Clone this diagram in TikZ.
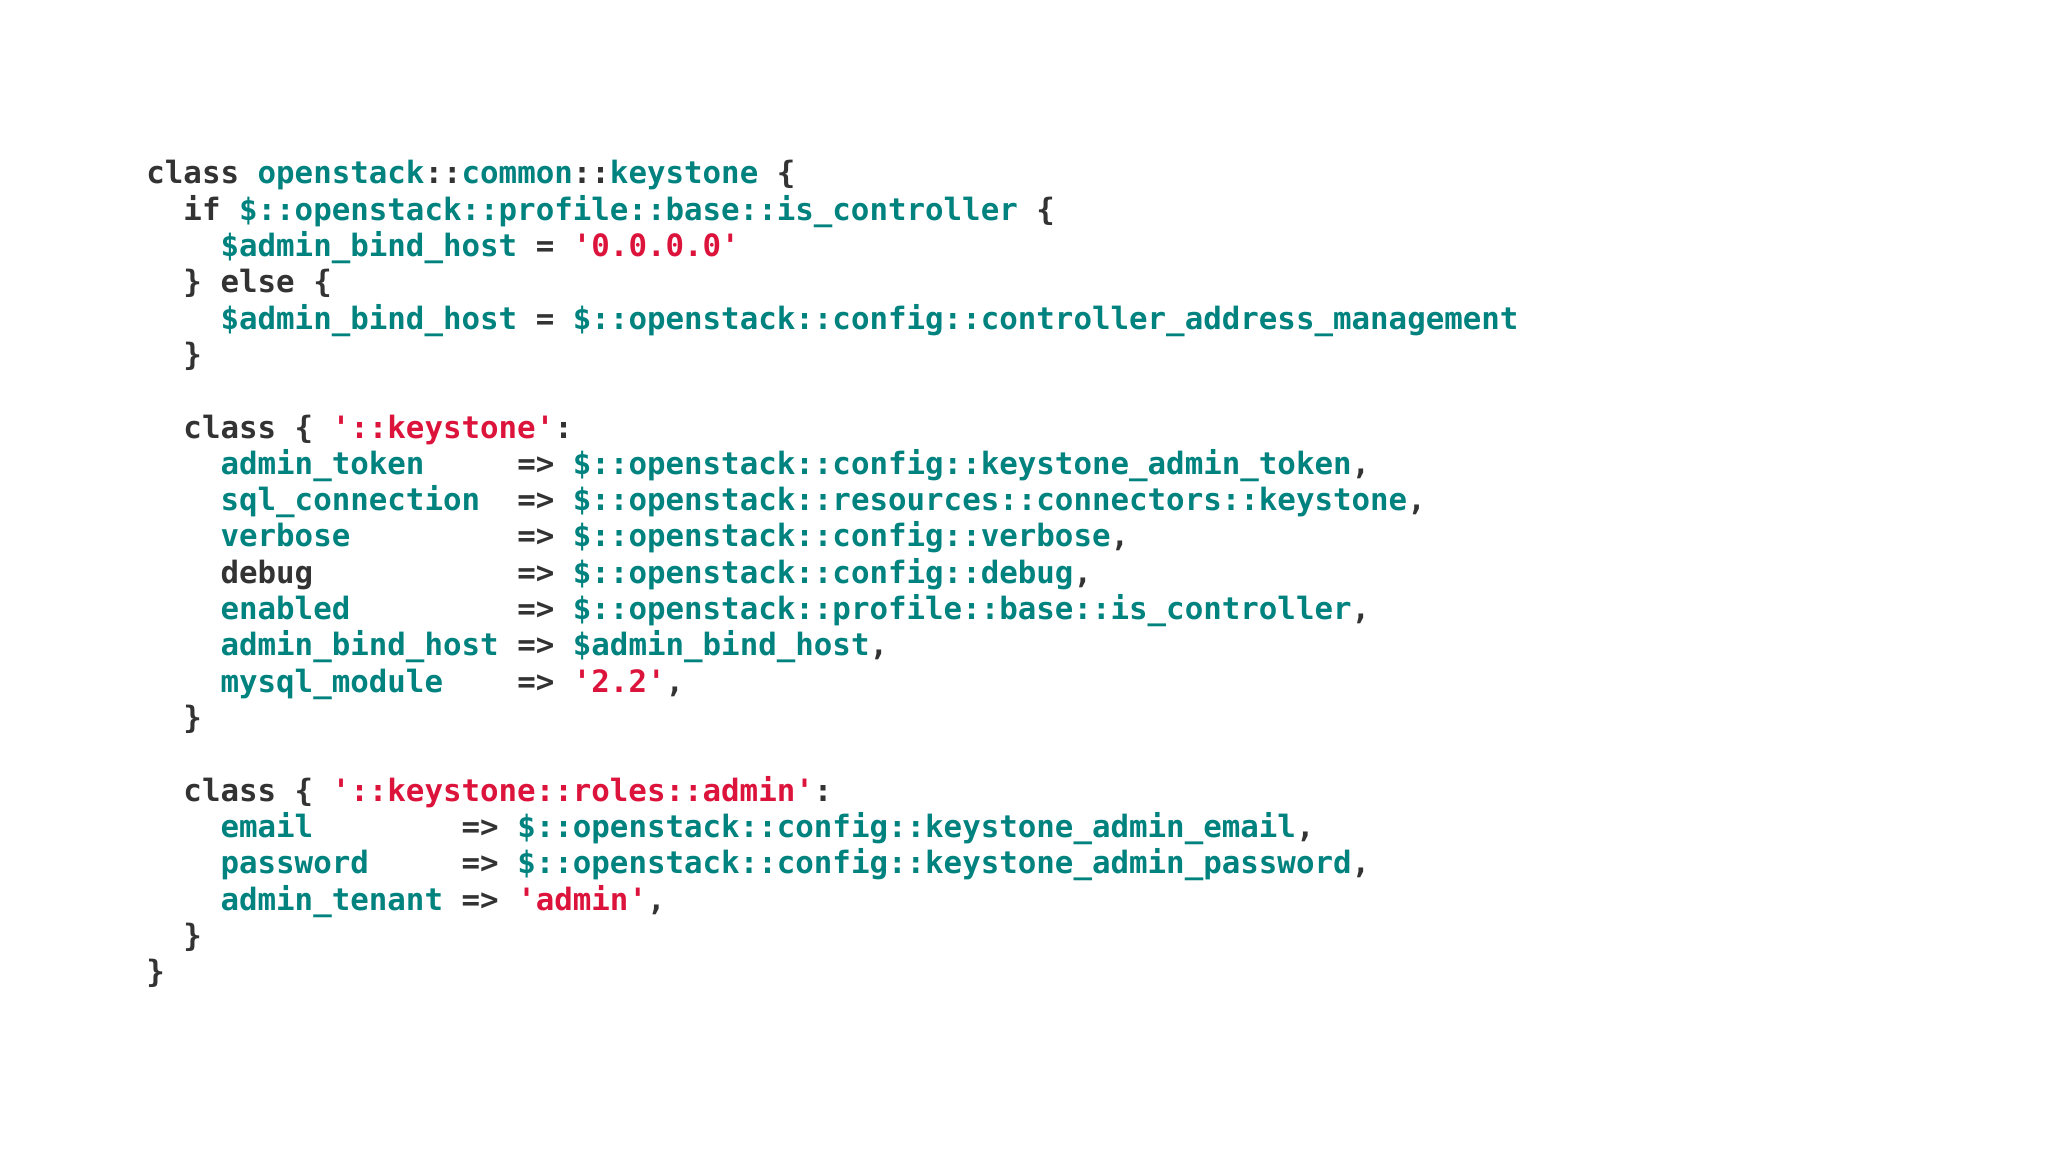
\documentclass[tikz,border=0pt]{standalone}
\usepackage{fontspec}
\newfontfamily\code{DejaVu Sans Mono Bold}
\definecolor{tl}{HTML}{00827F}
\definecolor{rd}{HTML}{DC143C}
\definecolor{dk}{HTML}{333333}
\newcommand{\T}[1]{\textcolor{tl}{#1}}
\newcommand{\R}[1]{\textcolor{rd}{#1}}
\begin{document}
\begin{tikzpicture}[x=1pt,y=1pt,
  ln/.style={anchor=base west,inner sep=0pt,font=\code\fontsize{15.4}{18}\selectfont,text=dk}]
\useasboundingbox (0,0) rectangle (1024,576);
\def\cw{9.27}
\def\lh{18.15}
\newcommand{\LL}[4]{\node[ln] (#1) at (73+#2*\cw, 576-92-#3*\lh) {#4};}
\LL{l1}{0}{0}{class \T{openstack}::\T{common}::\T{keystone} \{}
\LL{l2}{2}{1}{if \T{\$::openstack::profile::base::is\_controller} \{}
\LL{l3}{4}{2}{\T{\$admin\_bind\_host} = \R{'0.0.0.0'}}
\LL{l4}{2}{3}{\} else \{}
\LL{l5}{4}{4}{\T{\$admin\_bind\_host} = \T{\$::openstack::config::controller\_address\_management}}
\LL{l6}{2}{5}{\}}
\LL{l8}{2}{7}{class \{ \R{'::keystone'}:}
\LL{l9}{4}{8}{\T{admin\_token}~~~~~=> \T{\$::openstack::config::keystone\_admin\_token},}
\LL{l10}{4}{9}{\T{sql\_connection}~~=> \T{\$::openstack::resources::connectors::keystone},}
\LL{l11}{4}{10}{\T{verbose}~~~~~~~~~=> \T{\$::openstack::config::verbose},}
\LL{l12}{4}{11}{debug~~~~~~~~~~~=> \T{\$::openstack::config::debug},}
\LL{l13}{4}{12}{\T{enabled}~~~~~~~~~=> \T{\$::openstack::profile::base::is\_controller},}
\LL{l14}{4}{13}{\T{admin\_bind\_host} => \T{\$admin\_bind\_host},}
\LL{l15}{4}{14}{\T{mysql\_module}~~~~=> \R{'2.2'},}
\LL{l16}{2}{15}{\}}
\LL{l18}{2}{17}{class \{ \R{'::keystone::roles::admin'}:}
\LL{l19}{4}{18}{\T{email}~~~~~~~~=> \T{\$::openstack::config::keystone\_admin\_email},}
\LL{l20}{4}{19}{\T{password}~~~~~=> \T{\$::openstack::config::keystone\_admin\_password},}
\LL{l21}{4}{20}{\T{admin\_tenant} => \R{'admin'},}
\LL{l22}{2}{21}{\}}
\LL{l23}{0}{22}{\}}
\end{tikzpicture}
\end{document}
